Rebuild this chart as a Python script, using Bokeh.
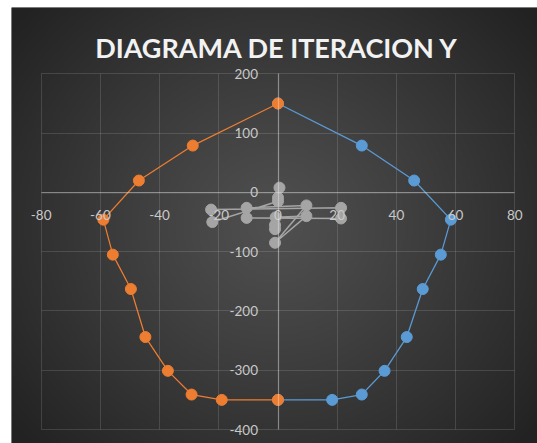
import numpy as np
from bokeh.plotting import figure
from bokeh.models import Range1d, FixedTicker, Label
from bokeh.embed import file_html
from bokeh.resources import INLINE

# ---- data ----
x_ticks = [-80, -60, -40, -20, 0, 20, 40, 60, 80]
y_ticks = [-400, -300, -200, -100, 0, 100, 200]

blue_x = [0, 28.3, 46.0, 58.4, 55.0, 48.9, 43.5, 36.0, 28.3, 18.3, 0]
blue_y = [150, 79, 20, -46, -105, -163, -244, -301, -341, -350, -350]

orange_x = [0, -28.8, -47.0, -59.0, -55.8, -49.7, -44.8, -37.2, -29.2, -19.0, 0]
orange_y = [150, 79, 20, -46, -105, -163, -244, -301, -341, -350, -350]

gray_x = [0.5, 0.0, 0.0, -22.2, -22.6, 21.3, 21.3, -10.6, -10.6, 9.6, -1.0, 9.6, -0.8, -1.0, -1.0]
gray_y = [8, -9, -15, -50, -29, -26, -44, -43, -26, -22, -85, -40, -42, -55, -62]

title_text = "DIAGRAMA DE ITERACION Y"

# ---- layout ----
W, H = 537, 443
LEFT_PAD = 11
TOP_PAD = 7
frame_w = W - LEFT_PAD
frame_h = H - TOP_PAD
# image pixel mapping measured on the reference
px_per_x = 2.96
px_per_y = 0.5928
x0_px = 277.5      # image x of data x=0
y0_px = 191.9      # image y of data y=0
frame_left = LEFT_PAD
frame_top = TOP_PAD
xs = (frame_left - x0_px) / px_per_x
xe = (frame_left + frame_w - x0_px) / px_per_x
ye = (y0_px - frame_top) / px_per_y
ys = (y0_px - (frame_top + frame_h)) / px_per_y

p = figure(width=W, height=H, output_backend="svg", toolbar_location=None,
           title=None, x_range=Range1d(xs, xe), y_range=Range1d(ys, ye),
           min_border_left=LEFT_PAD, min_border_right=0, min_border_top=TOP_PAD,
           min_border_bottom=0)
p.border_fill_color = "white"
p.background_fill_color = "#333333"
p.outline_line_color = None

# radial gradient background
nx, ny = 263, 218
cols = (np.arange(nx) + 0.5) * frame_w / nx + frame_left
rows = frame_top + frame_h - (np.arange(ny) + 0.5) * frame_h / ny
PX, PY = np.meshgrid(cols, rows)
cx, cy = 275.0, 225.0
r = np.sqrt((PX - cx) ** 2 + ((PY - cy) / 0.95) ** 2)
lvl = 80 - 46 * np.clip(r / 340.0, 0, 1) ** 1.1
lvl = lvl.astype(np.uint32)
img = (255 << 24) | (lvl << 16) | (lvl << 8) | lvl
p.image_rgba(image=[img.astype(np.uint32)], x=xs, y=ys, dw=xe - xs, dh=ye - ys, level="image")

# axes crossing at 0
label_font = "Lato"
xt = FixedTicker(ticks=x_ticks)
yt = FixedTicker(ticks=y_ticks)
p.xaxis.ticker = xt
p.yaxis.ticker = yt
p.xgrid.ticker = xt
p.ygrid.ticker = yt
p.xaxis.fixed_location = 0
p.yaxis.fixed_location = 0
p.xaxis.bounds = (x_ticks[0], x_ticks[-1])
p.yaxis.bounds = (y_ticks[0], y_ticks[-1])
p.xaxis.major_label_overrides = {t: str(t) for t in x_ticks}
p.yaxis.major_label_overrides = {t: str(t) for t in y_ticks}
for ax in (p.xaxis, p.yaxis):
    ax.axis_line_color = "white"
    ax.axis_line_alpha = 0.33
    ax.axis_line_width = 1.25
    ax.major_tick_line_color = None
    ax.minor_tick_line_color = None
    ax.major_label_text_color = "#c9c9c9"
    ax.major_label_text_font = label_font
    ax.major_label_text_font_size = "13.5px"
p.xaxis.major_label_standoff = 12
p.yaxis.major_label_standoff = 14

p.xgrid.bounds = (x_ticks[0], x_ticks[-1])
p.ygrid.bounds = (y_ticks[0], y_ticks[-1])
try:
    p.xgrid.cross_bounds = (y_ticks[0], y_ticks[-1])
    p.ygrid.cross_bounds = (x_ticks[0], x_ticks[-1])
except Exception:
    pass
for g in (p.xgrid, p.ygrid):
    g.grid_line_color = "white"
    g.grid_line_alpha = 0.13
    g.grid_line_width = 1

# series
p.line(blue_x, blue_y, line_color="#5B9BD5", line_width=1.25)
p.scatter(blue_x, blue_y, size=11, fill_color="#5B9BD5", line_color="#5B9BD5")
p.line(orange_x, orange_y, line_color="#ED7D31", line_width=1.25)
p.scatter(orange_x, orange_y, size=11, fill_color="#ED7D31", line_color="#ED7D31")
p.line(gray_x, gray_y, line_color="#A5A5A5", line_width=1.5)
p.scatter(gray_x, gray_y, size=11, fill_color="#A5A5A5", line_color="#A5A5A5")

# title
title = Label(x=276.5 - frame_left, y=(frame_top + frame_h) - 46.7,
              x_units="screen", y_units="screen", text=title_text,
              text_align="center", text_baseline="alphabetic",
              text_font=label_font, text_font_style="bold",
              text_font_size="27px", text_color="#f2f2f2")
p.add_layout(title)

open("out.html", "w").write(file_html(p, INLINE))
